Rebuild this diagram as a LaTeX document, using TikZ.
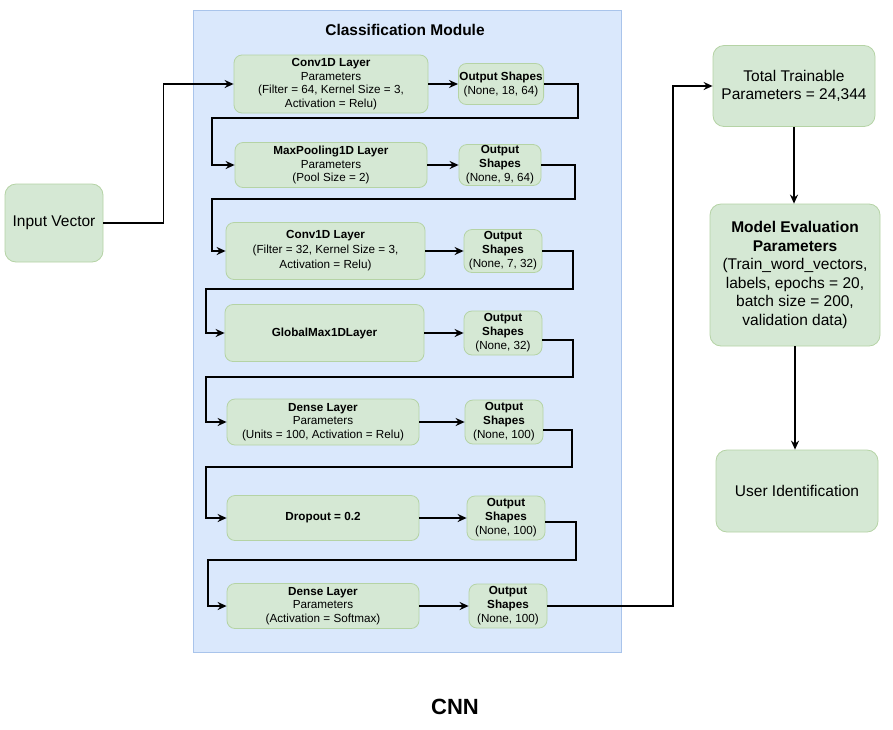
\documentclass[tikz,border=0pt]{standalone}
\usepackage{fontspec}
\setmainfont{Liberation Sans}
\usetikzlibrary{arrows.meta}
\definecolor{gfill}{HTML}{D5E8D4}
\definecolor{gdraw}{HTML}{B5D3A5}
\definecolor{bfill}{HTML}{DAE8FC}
\definecolor{bdraw}{HTML}{A9C4EB}
\tikzset{
 gbox/.style={draw=gdraw, fill=gfill, rounded corners=8pt, align=center, inner sep=1pt, font=\fontsize{11.7}{13.5}\selectfont, line width=0.8pt},
 obox/.style={gbox, font=\fontsize{11.7}{14}\selectfont},
 bigbox/.style={gbox, rounded corners=11pt, font=\fontsize{15.5}{18.5}\selectfont},
 arr/.style={draw=black, line width=1.5pt, -{Stealth[length=9pt,width=8pt,inset=3pt]}},
}
\begin{document}
\begin{tikzpicture}[x=1pt,y=-1pt]
\useasboundingbox (0,0) rectangle (893,729);
\fill[white] (0,0) rectangle (893,729);
\node[draw=bdraw, fill=bfill, minimum width=428pt, minimum height=642pt, line width=0.8pt] (cm) at (407,331) {};
\node[font=\fontsize{15.5}{18}\selectfont\bfseries] (title) at (405,30) {Classification Module};

\node[bigbox, minimum width=98pt, minimum height=78pt] (in) at (54,223) {Input Vector};

\node[gbox, minimum width=194pt, minimum height=58pt] (c1) at (331,84) {\textbf{Conv1D Layer}\\Parameters\\(Filter = 64, Kernel Size = 3,\\Activation = Relu)};
\node[obox, minimum width=84pt, minimum height=41pt] (o1) at (501,84) {\textbf{Output Shapes}\\(None, 18, 64)};

\node[gbox, minimum width=192pt, minimum height=45pt] (m1) at (331,165) {\textbf{MaxPooling1D Layer}\\Parameters\\(Pool Size = 2)};
\node[obox, minimum width=82pt, minimum height=41pt] (o2) at (500,165) {\textbf{Output}\\\textbf{Shapes}\\(None, 9, 64)};

\node[gbox, minimum width=199pt, minimum height=57pt, font=\fontsize{11.7}{15}\selectfont] (c2) at (325.5,251) {\textbf{Conv1D Layer}\\(Filter = 32, Kernel Size = 3,\\Activation = Relu)};
\node[obox, minimum width=78pt, minimum height=43pt] (o3) at (503,251) {\textbf{Output}\\\textbf{Shapes}\\(None, 7, 32)};

\node[gbox, minimum width=199pt, minimum height=57pt] (g) at (324.5,333) {\textbf{GlobalMax1DLayer}};
\node[obox, minimum width=78pt, minimum height=44pt] (o4) at (503,333) {\textbf{Output}\\\textbf{Shapes}\\(None, 32)};

\node[gbox, minimum width=192pt, minimum height=46pt] (d1) at (323,422) {\textbf{Dense Layer}\\Parameters\\(Units = 100, Activation = Relu)};
\node[obox, minimum width=78pt, minimum height=44pt] (o5) at (504,422) {\textbf{Output}\\\textbf{Shapes}\\(None, 100)};

\node[gbox, minimum width=192pt, minimum height=45pt] (dr) at (323,518) {\textbf{Dropout = 0.2}};
\node[obox, minimum width=78pt, minimum height=44pt] (o6) at (506,518) {\textbf{Output}\\\textbf{Shapes}\\(None, 100)};

\node[gbox, minimum width=192pt, minimum height=45pt] (d2) at (323,606) {\textbf{Dense Layer}\\Parameters\\(Activation = Softmax)};
\node[obox, minimum width=78pt, minimum height=44pt] (o7) at (508,606) {\textbf{Output}\\\textbf{Shapes}\\(None, 100)};

\node[bigbox, minimum width=162pt, minimum height=81pt] (tot) at (794,86) {Total Trainable\\Parameters = 24,344};
\node[bigbox, minimum width=170pt, minimum height=142pt] (me) at (795,275) {\textbf{Model Evaluation}\\\textbf{Parameters}\\(Train\_word\_vectors,\\labels, epochs = 20,\\batch size = 200,\\validation data)};
\node[bigbox, minimum width=162pt, minimum height=82pt] (ui) at (797,491) {User Identification};

\node[font=\fontsize{22}{24}\selectfont\bfseries] (cnn) at (455,707) {CNN};

\draw[arr] (in.east) -- ++(60,0) |- (c1.west);
\draw[arr] (c1.east) -- (c1.east -| o1.west);
\draw[arr] (o1.east) -- (578,84) -- (578,118) -- (212,118) |- (m1.west);
\draw[arr] (m1.east) -- (m1.east -| o2.west);
\draw[arr] (o2.east) -- (575,165) -- (575,199) -- (212,199) |- (c2.west);
\draw[arr] (c2.east) -- (c2.east -| o3.west);
\draw[arr] (o3.east) -- (573,251) -- (573,289) -- (206,289) |- (g.west);
\draw[arr] (g.east) -- (g.east -| o4.west);
\draw[arr] ([yshift=-7pt]o4.east) -- (573,340) -- (573,377) -- (206,377) |- (d1.west);
\draw[arr] (d1.east) -- (d1.east -| o5.west);
\draw[arr] ([yshift=-8pt]o5.east) -- (572,430) -- (572,467) -- (206,467) |- (dr.west);
\draw[arr] (dr.east) -- (dr.east -| o6.west);
\draw[arr] ([yshift=-4pt]o6.east) -- (576,522) -- (576,560) -- (208,560) |- (d2.west);
\draw[arr] (d2.east) -- (d2.east -| o7.west);
\draw[arr] (o7.east) -- (673,606) |- (tot.west);
\draw[arr] (tot.south) -- (tot.south |- me.north);
\draw[arr] (me.south) -- (me.south |- ui.north);
\end{tikzpicture}
\end{document}
